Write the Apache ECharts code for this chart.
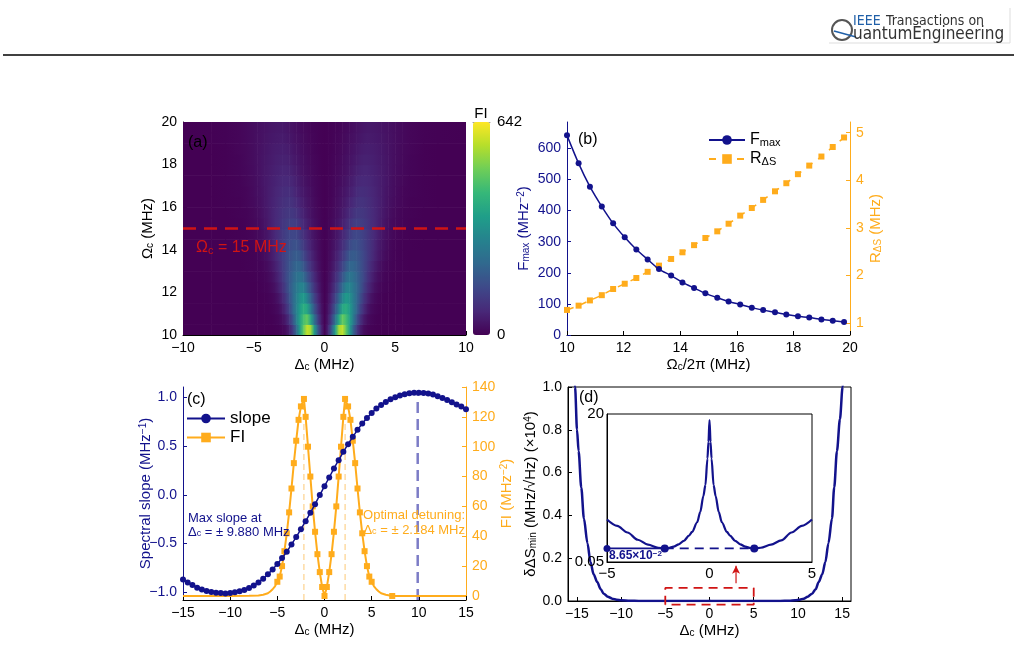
<!DOCTYPE html>
<html>
<head>
<meta charset="utf-8">
<script src="https://cdn.jsdelivr.net/npm/echarts@6/dist/echarts.min.js"></script>
<style>
html, body { margin: 0; padding: 0; background: #fff; }
#chart { width: 1019px; height: 655px; }
</style>
</head>
<body>
<div id="chart"></div>
<script>
const FONT = 'Liberation Sans, Arial, sans-serif';
const NAVY = '#12128c';
const ORANGE = '#ffac1c';
const RED = '#d01414';

// (a) FI map, half rows (mirrored about 0), Δc samples and Ωc row centres
const heatDelta = [0, 0.25, 0.5, 0.75, 1, 1.25, 1.5, 1.75, 2, 2.25, 2.5, 2.75, 3, 3.25, 3.5, 3.75, 4, 4.25, 4.5, 4.75, 5, 5.5, 6, 7, 8, 10];
const heatOmega = [10.25, 10.75, 11.25, 11.75, 12.25, 12.75, 13.25, 13.75, 14.25, 14.75, 15.25, 15.75, 16.25, 16.75, 17.25, 17.75, 18.25, 18.75, 19.25, 19.75];
const heatRows = [
  [0, 72, 192, 360, 552, 585, 483, 354, 216, 117, 55, 22, 9, 4, 1, 0, 0, 0, 0, 0, 0, 0, 0, 0, 0, 0],
  [0, 49, 132, 244, 381, 488, 449, 366, 273, 171, 98, 49, 23, 11, 5, 2, 1, 0, 0, 0, 0, 0, 0, 0, 0, 0],
  [0, 37, 98, 176, 278, 380, 403, 352, 282, 211, 135, 82, 43, 21, 11, 5, 2, 1, 0, 0, 0, 0, 0, 0, 0, 0],
  [0, 28, 74, 131, 208, 294, 346, 324, 275, 218, 159, 104, 66, 36, 19, 10, 5, 2, 1, 0, 0, 0, 0, 0, 0, 0],
  [0, 21, 56, 100, 156, 220, 282, 290, 259, 219, 176, 126, 85, 56, 32, 18, 9, 5, 3, 1, 0, 0, 0, 0, 0, 0],
  [0, 17, 44, 78, 120, 171, 223, 250, 236, 208, 173, 138, 100, 68, 44, 26, 16, 8, 5, 3, 1, 0, 0, 0, 0, 0],
  [0, 13, 34, 60, 92, 132, 175, 209, 210, 192, 166, 136, 107, 77, 55, 36, 22, 13, 7, 5, 3, 1, 0, 0, 0, 0],
  [0, 11, 28, 49, 73, 105, 138, 174, 186, 178, 159, 137, 113, 88, 65, 46, 31, 20, 12, 7, 4, 1, 0, 0, 0, 0],
  [0, 9, 23, 39, 59, 84, 111, 140, 160, 158, 145, 128, 109, 90, 69, 50, 36, 25, 16, 10, 6, 2, 1, 0, 0, 0],
  [0, 7, 18, 31, 48, 67, 89, 112, 134, 139, 133, 120, 105, 88, 74, 56, 41, 29, 21, 14, 9, 4, 1, 0, 0, 0],
  [0, 6, 15, 26, 39, 54, 72, 92, 112, 122, 119, 111, 99, 85, 73, 59, 45, 33, 24, 17, 12, 5, 2, 0, 0, 0],
  [0, 5, 12, 21, 32, 44, 59, 75, 92, 104, 106, 101, 92, 82, 71, 60, 47, 37, 28, 20, 14, 6, 3, 0, 0, 0],
  [0, 4, 10, 18, 27, 36, 49, 63, 76, 89, 95, 92, 86, 77, 68, 59, 49, 39, 30, 23, 17, 9, 4, 1, 0, 0],
  [0, 3, 8, 15, 23, 31, 41, 52, 63, 76, 84, 83, 79, 72, 65, 56, 49, 39, 31, 25, 19, 10, 5, 1, 0, 0],
  [0, 3, 7, 13, 19, 26, 34, 44, 53, 65, 72, 74, 72, 68, 61, 55, 47, 41, 33, 26, 20, 12, 6, 1, 0, 0],
  [0, 2, 6, 11, 16, 22, 28, 36, 45, 54, 62, 66, 65, 61, 57, 51, 45, 40, 33, 27, 21, 13, 7, 2, 0, 0],
  [0, 2, 5, 9, 14, 19, 25, 31, 39, 46, 54, 58, 58, 56, 53, 48, 43, 38, 33, 27, 22, 14, 8, 2, 0, 0],
  [0, 2, 4, 8, 12, 16, 21, 27, 33, 39, 47, 51, 53, 52, 49, 45, 41, 36, 32, 27, 22, 14, 9, 2, 0, 0],
  [0, 2, 4, 7, 10, 14, 18, 23, 28, 33, 39, 44, 47, 46, 44, 41, 38, 34, 30, 27, 22, 15, 9, 3, 1, 0],
  [0, 1, 3, 6, 8, 12, 15, 19, 24, 29, 34, 39, 42, 42, 40, 38, 35, 32, 29, 25, 22, 15, 10, 3, 1, 0]
];
const heatMax = 642;
const viridis = ['#440154', '#482878', '#3e4989', '#31688e', '#26828e', '#1f9e89', '#35b779', '#6ece58', '#b5de2b', '#fde725'];
const omegaLine = 15;

// (b) Fmax and R_ΔS against Ωc/2π
const bOmega = [10.00, 10.41, 10.81, 11.23, 11.63, 12.04, 12.45, 12.85, 13.25, 13.68, 14.08, 14.49, 14.89, 15.31, 15.71, 16.12, 16.53, 16.93, 17.35, 17.75, 18.16, 18.56, 18.99, 19.39, 19.79];
const bFmax = [642, 552, 477, 413, 359, 314, 275, 243, 212, 191, 169, 151, 134, 120, 108, 98, 88, 80, 73, 66, 60, 56, 50, 46, 42];
const bRds = [1.28, 1.37, 1.48, 1.59, 1.72, 1.83, 1.95, 2.08, 2.21, 2.35, 2.49, 2.64, 2.79, 2.93, 3.09, 3.26, 3.42, 3.59, 3.77, 3.94, 4.13, 4.31, 4.50, 4.70, 4.90];
const bLeftTicks = [0, 100, 200, 300, 400, 500, 600];
const bRightTicks = [1, 2, 3, 4, 5];

// (c) spectral slope and FI at Ωc = 15 MHz
const cDelta = [-15, -14.5, -14, -13.5, -13, -12.5, -12, -11.5, -11, -10.5, -10, -9.5, -9, -8.5, -8, -7.5, -7, -6.5, -6, -5.5, -5, -4.5, -4, -3.5, -3, -2.5, -2, -1.5, -1, -0.5, 0, 0.5, 1, 1.5, 2, 2.5, 3, 3.5, 4, 4.5, 5, 5.5, 6, 6.5, 7, 7.5, 8, 8.5, 9, 9.5, 10, 10.5, 11, 11.5, 12, 12.5, 13, 13.5, 14, 14.5, 15];
const cSlope = [-0.870, -0.901, -0.928, -0.955, -0.973, -0.990, -1.000, -1.007, -1.010, -1.014, -1.010, -1.003, -0.993, -0.979, -0.959, -0.932, -0.901, -0.863, -0.818, -0.767, -0.712, -0.651, -0.586, -0.510, -0.435, -0.353, -0.271, -0.185, -0.096, -0.003, 0.089, 0.178, 0.271, 0.356, 0.442, 0.521, 0.596, 0.668, 0.733, 0.791, 0.842, 0.887, 0.925, 0.955, 0.983, 1.003, 1.021, 1.034, 1.045, 1.051, 1.051, 1.048, 1.041, 1.031, 1.014, 0.997, 0.976, 0.952, 0.928, 0.908, 0.880];
const fiDelta = [-15, -10, -8, -7, -6.5, -6, -5.75, -5.5, -5.25, -5, -4.75, -4.5, -4.25, -4, -3.75, -3.5, -3.25, -3, -2.75, -2.5, -2.18, -2, -1.75, -1.5, -1.25, -1, -0.75, -0.5, -0.25, 0, 0.25, 0.5, 0.75, 1, 1.25, 1.5, 1.75, 2, 2.18, 2.5, 2.75, 3, 3.25, 3.5, 3.75, 4, 4.25, 4.5, 4.75, 5, 5.25, 5.5, 5.75, 6, 6.5, 7.18, 8, 10, 15];
const fiVal = [0, 0, 0.1, 0.3, 0.8, 1.8, 3, 4.5, 6.5, 9.5, 13, 20, 30, 42, 56, 72, 89, 104, 118, 127, 132, 120, 100, 80, 60, 43, 28, 16, 6, 0, 6, 16, 28, 43, 60, 80, 100, 120, 132, 127, 118, 104, 89, 72, 56, 42, 30, 20, 13, 9.5, 6.5, 4.5, 3, 1.8, 0.8, 0, 0, 0, 0];
const cLeftTicks = [-1, -0.5, 0, 0.5, 1];
const cRightTicks = [0, 20, 40, 60, 80, 100, 120, 140];
const optDetuning = 2.184;
const fiPeak = 132;
const maxSlopeAt = 9.880;
const maxSlope = 1.05;

// (d) δΔS_min (×10^4), outer wings and inset (MHz/√Hz, log axis)
const dLeftDelta = [-16, -15.5, -15.2, -14.98, -14.8, -14.5, -14.2, -13.8, -13.46, -13.1, -12.7, -12.3, -11.96, -11.5, -11, -10.5, -10, -9, -8, -7, -6];
const dLeftVal = [1.6, 1.28, 1.0, 0.8, 0.7, 0.53, 0.385, 0.27, 0.182, 0.125, 0.089, 0.055, 0.034, 0.02, 0.011, 0.006, 0.003, 0.001, 0.0004, 0.0001, 0.00005];
const dRightDelta = [6, 7, 8, 9, 9.7, 10.2, 10.65, 11.1, 11.6, 12, 12.35, 12.75, 13.1, 13.45, 13.85, 14.1, 14.41, 14.75, 15.05, 15.4, 16];
const dRightVal = [0.00005, 0.0001, 0.0004, 0.001, 0.003, 0.006, 0.011, 0.02, 0.034, 0.055, 0.089, 0.125, 0.182, 0.27, 0.385, 0.53, 0.7, 0.85, 1.0, 1.28, 1.6];
const insetDelta = [-5, -4.5, -4, -3.5, -3, -2.5, -2.18, -2, -1.75, -1.5, -1.25, -1, -0.85, -0.6, -0.45, -0.3, -0.2, -0.1, -0.05, 0, 0.05, 0.1, 0.2, 0.3, 0.45, 0.6, 0.85, 1, 1.25, 1.5, 1.75, 2, 2.18, 2.5, 3, 3.5, 4, 4.5, 5];
const insetVal = [0.279, 0.215, 0.165, 0.123, 0.101, 0.089, 0.0865, 0.088, 0.093, 0.102, 0.118, 0.145, 0.169, 0.25, 0.38, 0.72, 1.12, 3.3, 6.5, 15.7, 6.5, 3.3, 1.12, 0.72, 0.38, 0.25, 0.169, 0.145, 0.118, 0.102, 0.093, 0.088, 0.0865, 0.089, 0.101, 0.12, 0.165, 0.215, 0.279];
const insetMin = 0.0865;
const dXTicks = [-15, -10, -5, 0, 5, 10, 15];
const zoomBox = { x: [-5, 5], y: [-0.017, 0.061] };
const arrowAt = { x: 3.0, y: [0.083, 0.165] };

// ---- helpers
const vir = viridis.map(h => [1, 3, 5].map(i => parseInt(h.slice(i, i + 2), 16)));
function cmap(v) {
  const t = Math.max(0, Math.min(1, v / heatMax)) * (vir.length - 1);
  const k = Math.min(Math.floor(t), vir.length - 2), f = t - k;
  return 'rgb(' + vir[k].map((a, n) => Math.round(a + (vir[k + 1][n] - a) * f)).join(',') + ')';
}
const minus = d => v => (v < 0 ? '\u2212' : '') + Math.abs(v).toFixed(d);

// rich styles for component texts (color) and for graphic texts (fill)
function rich(color, size) {
  const small = Math.round(size * 0.68);
  return {
    n: { fontSize: size, color: color, fontFamily: FONT },
    s: { fontSize: small, color: color, fontFamily: FONT, verticalAlign: 'bottom' },
    p: { fontSize: small, color: color, fontFamily: FONT, verticalAlign: 'top' }
  };
}
function richG(color, size) {
  const small = Math.round(size * 0.68);
  return {
    n: { font: size + 'px ' + FONT, fill: color },
    s: { font: small + 'px ' + FONT, fill: color, verticalAlign: 'bottom' },
    p: { font: small + 'px ' + FONT, fill: color, verticalAlign: 'top' }
  };
}

function valAxis(grid, color, o) {
  const a = {
    type: o.type || 'value', gridIndex: grid, min: o.min, max: o.max,
    axisLine: { show: o.line !== false, onZero: false, lineStyle: { color: o.lineColor || color, width: 1 } },
    axisTick: { show: o.tick !== false, inside: true, length: 4, lineStyle: { color: color } },
    axisLabel: { show: o.label !== false, color: color, fontSize: o.size || 14, fontFamily: FONT, margin: o.margin || 6 },
    splitLine: { show: false },
    name: o.name || '', nameLocation: 'middle', nameGap: o.gap, nameMoveOverlap: false,
    nameTextStyle: { rich: rich(color, 15) }
  };
  if (o.position) a.position = o.position;
  if (o.rotate !== undefined) a.nameRotate = o.rotate;
  if (o.fmt) a.axisLabel.formatter = o.fmt;
  if (o.interval) a.interval = o.interval;
  if (o.ticks) { a.axisLabel.customValues = o.ticks; a.axisTick.customValues = o.ticks; }
  return a;
}

// ---- table for the map: cells between neighbouring Δc samples
const heatX = heatDelta.slice(1).map(d => -d).reverse().concat(heatDelta);
const heatCells = [];
heatRows.forEach((row, j) => {
  const full = row.slice(1).reverse().concat(row);
  for (let i = 0; i < heatX.length - 1; i++) {
    heatCells.push([heatX[i], heatOmega[j], full[i], heatX[i + 1], full[i + 1]]);
  }
});
const halfRow = (heatOmega[1] - heatOmega[0]) / 2;

function renderHeat(params, api) {
  const a = api.coord([api.value(0), api.value(1) + halfRow]);
  const b = api.coord([api.value(3), api.value(1) - halfRow]);
  return {
    type: 'rect',
    shape: { x: a[0], y: a[1], width: b[0] - a[0] + 0.6, height: b[1] - a[1] + 0.6 },
    style: {
      fill: new echarts.graphic.LinearGradient(0, 0, 1, 0, [
        { offset: 0, color: cmap(api.value(2)) },
        { offset: 1, color: cmap(api.value(4)) }
      ])
    }
  };
}

const zip = (xs, ys) => xs.map((x, i) => [x, ys[i]]);
const dMain = zip(dLeftDelta, dLeftVal)
  .concat(zip(insetDelta, insetVal.map(v => v / 1e4)))
  .concat(zip(dRightDelta, dRightVal));
const fiData = fiDelta.map((x, i) => ({
  value: [x, fiVal[i]],
  symbol: (Math.abs(x) <= 5 || x === 7.18) ? 'rect' : 'none'
}));

const text = (x, y, str, color, size, align, font) => ({
  type: 'text', x: x, y: y, z: 50,
  style: { text: str, fill: color, font: size + 'px ' + (font || FONT), textAlign: align || 'left', textVerticalAlign: 'middle' }
});
const richText = (x, y, str, color, size, align) => ({
  type: 'text', x: x, y: y, z: 50,
  style: { text: str, rich: richG(color, size), textAlign: align || 'left', textVerticalAlign: 'middle' }
});

const chart = echarts.init(document.getElementById('chart'), null, { renderer: 'canvas' });

chart.setOption({
  animation: false,
  backgroundColor: '#fff',
  grid: [
    { left: 183, top: 122, width: 283, height: 213, outerBoundsMode: 'none' },
    { left: 473, top: 122, width: 17, height: 213, outerBoundsMode: 'none' },
    { left: 567, top: 122, width: 283, height: 213, outerBoundsMode: 'none' },
    { left: 183, top: 387, width: 283, height: 213, outerBoundsMode: 'none' },
    { left: 568, top: 387, width: 283, height: 214, outerBoundsMode: 'none', show: true, borderColor: '#000', borderWidth: 1 },
    { left: 607, top: 414, width: 205, height: 148, outerBoundsMode: 'none', show: true, borderColor: '#000', borderWidth: 1, backgroundColor: '#fff', z: 5 }
  ],
  xAxis: [
    valAxis(0, '#000', { min: -10, max: 10, interval: 5, fmt: minus(0), name: '{n|\u0394}{s|c}{n| (MHz)}', gap: 22 }),
    valAxis(1, '#999', { min: 0, max: 1, position: 'top', tick: false, label: false }),
    valAxis(2, '#000', { min: 10, max: 20, interval: 2, name: '{n|\u03a9}{s|c}{n|/2\u03c0 (MHz)}', gap: 22 }),
    valAxis(3, '#000', { min: -15, max: 15, interval: 5, fmt: minus(0), name: '{n|\u0394}{s|c}{n| (MHz)}', gap: 22 }),
    valAxis(4, '#000', { min: -16, max: 16, ticks: dXTicks, fmt: minus(0), name: '{n|\u0394}{s|c}{n| (MHz)}', gap: 22 }),
    Object.assign(valAxis(5, '#000', { min: -5, max: 5, ticks: [-5, 0, 5], fmt: minus(0), tick: false, size: 15, margin: 4 }), { z: 6 })
  ],
  yAxis: [
    valAxis(0, '#000', { min: 10, max: 20, interval: 2, name: '{n|\u03a9}{s|c}{n| (MHz)}', gap: 28 }),
    valAxis(1, '#000', { min: 0, max: heatMax, position: 'right', line: false, tick: false, ticks: [0, heatMax], size: 15, margin: 7 }),
    valAxis(2, NAVY, { min: 0, max: 685, ticks: bLeftTicks, name: '{n|F}{s|max}{n| (MHz}{p|\u22122}{n|)}', gap: 36 }),
    valAxis(2, ORANGE, { min: 0.754, max: 5.225, position: 'right', ticks: bRightTicks, name: '{n|R}{s|\u0394S}{n| (MHz)}', gap: 18, rotate: 90 }),
    valAxis(3, NAVY, { min: -1.082, max: 1.109, ticks: cLeftTicks, fmt: minus(1), name: '{n|Spectral slope (MHz}{p|\u22121}{n|)}', gap: 30 }),
    valAxis(3, ORANGE, { min: -2.7, max: 140, position: 'right', ticks: cRightTicks, name: '{n|FI (MHz}{p|\u22122}{n|)}', gap: 33, rotate: 90 }),
    valAxis(4, '#000', { min: 0, max: 1, interval: 0.2, fmt: minus(1), name: '{n|\u03b4\u0394S}{s|min}{n| (MHz/\u221aHz) (\u00d710}{p|4}{n|)}', gap: 30 }),
    Object.assign(valAxis(5, '#000', {
      type: 'log', min: 0.05, max: 20, tick: false, size: 15, margin: 3,
      fmt: v => Math.abs(v - 0.05) < 1e-6 ? '0.05' : (Math.abs(v - 20) < 1e-6 ? '20' : '')
    }), { logBase: 10, z: 6 })
  ],
  visualMap: {
    type: 'continuous', min: 0, max: heatMax, seriesIndex: 0, dimension: 2,
    calculable: false, orient: 'vertical', left: 473, top: 122, padding: 0,
    itemWidth: 17, itemHeight: 213, inRange: { color: viridis }
  },
  legend: [
    {
      data: ['Fmax', 'Rds'], orient: 'vertical', left: 708, top: 132, padding: 0,
      itemWidth: 36, itemHeight: 12, itemGap: 3,
      formatter: n => n === 'Fmax' ? '{n|F}{s|max}' : '{n|R}{s|\u0394S}',
      textStyle: { rich: rich('#000', 16) }
    },
    {
      data: ['slope', 'FI'], orient: 'vertical', left: 186, top: 410, padding: 0,
      itemWidth: 38, itemHeight: 12, itemGap: 2,
      textStyle: { fontSize: 17, fontFamily: FONT, color: '#000' }
    }
  ],
  series: [
    { type: 'custom', xAxisIndex: 0, yAxisIndex: 0, renderItem: renderHeat, data: heatCells, encode: { x: [0, 3], y: 1 }, clip: true, z: 1 },
    { type: 'line', xAxisIndex: 0, yAxisIndex: 0, data: [[-10, omegaLine], [10, omegaLine]], symbol: 'none',
      lineStyle: { color: RED, width: 2.5, type: [13, 8] }, z: 5 },

    { name: 'Fmax', type: 'line', xAxisIndex: 2, yAxisIndex: 2, data: zip(bOmega, bFmax), smooth: 0.3,
      symbol: 'circle', symbolSize: 6, showAllSymbol: true, itemStyle: { color: NAVY },
      lineStyle: { color: NAVY, width: 1.5 }, z: 4 },
    { name: 'Rds', type: 'line', xAxisIndex: 2, yAxisIndex: 3, data: zip(bOmega, bRds),
      symbol: 'rect', symbolSize: 6, showAllSymbol: true, itemStyle: { color: ORANGE },
      lineStyle: { color: ORANGE, width: 1.5, type: [7, 7] }, z: 3 },

    { type: 'line', xAxisIndex: 3, yAxisIndex: 5, data: [[-optDetuning, -2.7], [-optDetuning, fiPeak]], symbol: 'none',
      lineStyle: { color: '#fdd595', width: 1.3, type: [6, 4] }, z: 1 },
    { type: 'line', xAxisIndex: 3, yAxisIndex: 5, data: [[optDetuning, -2.7], [optDetuning, fiPeak]], symbol: 'none',
      lineStyle: { color: '#fdd595', width: 1.3, type: [6, 4] }, z: 1 },
    { type: 'line', xAxisIndex: 3, yAxisIndex: 4, data: [[maxSlopeAt, -1.082], [maxSlopeAt, maxSlope]], symbol: 'none',
      lineStyle: { color: '#7c7cc6', width: 2.5, type: [11, 6] }, z: 1 },
    { name: 'FI', type: 'line', xAxisIndex: 3, yAxisIndex: 5, data: fiData,
      symbol: 'rect', symbolSize: 6, showAllSymbol: true, itemStyle: { color: ORANGE },
      lineStyle: { color: ORANGE, width: 2 }, z: 3 },
    { name: 'slope', type: 'line', xAxisIndex: 3, yAxisIndex: 4, data: zip(cDelta, cSlope),
      symbol: 'circle', symbolSize: 6, showAllSymbol: true, itemStyle: { color: NAVY },
      lineStyle: { color: NAVY, width: 1.5 }, z: 4 },

    { type: 'line', xAxisIndex: 4, yAxisIndex: 6, data: dMain, symbol: 'none', smooth: 0.3, smoothMonotone: 'x',
      lineStyle: { color: NAVY, width: 2.5 }, z: 3 },
    { type: 'line', xAxisIndex: 4, yAxisIndex: 6, clip: false, symbol: 'none',
      data: [[zoomBox.x[0], zoomBox.y[0]], [zoomBox.x[0], zoomBox.y[1]], [zoomBox.x[1], zoomBox.y[1]], [zoomBox.x[1], zoomBox.y[0]], [zoomBox.x[0], zoomBox.y[0]]],
      lineStyle: { color: RED, width: 1.8, type: [9, 6] }, z: 4 },
    { type: 'line', xAxisIndex: 4, yAxisIndex: 6, clip: false,
      data: [{ value: [arrowAt.x, arrowAt.y[0]], symbol: 'none' }, { value: [arrowAt.x, arrowAt.y[1]], symbol: 'arrow', symbolSize: [6, 8] }],
      itemStyle: { color: RED }, lineStyle: { color: RED, width: 1.2 }, z: 4 },

    { type: 'line', xAxisIndex: 5, yAxisIndex: 7, data: zip(insetDelta, insetVal), symbol: 'none',
      smooth: 0.3, smoothMonotone: 'x', lineStyle: { color: NAVY, width: 2.2 }, z: 7 },
    { type: 'line', xAxisIndex: 5, yAxisIndex: 7, data: [[-5, insetMin], [-optDetuning, insetMin]],
      symbol: 'circle', symbolSize: 7, itemStyle: { color: NAVY }, lineStyle: { color: NAVY, width: 1.8 }, z: 8 },
    { type: 'line', xAxisIndex: 5, yAxisIndex: 7, data: [[-optDetuning, insetMin], [optDetuning, insetMin]],
      symbol: 'circle', symbolSize: 8, itemStyle: { color: NAVY }, lineStyle: { color: NAVY, width: 1.8, type: [9, 6] }, z: 8 }
  ],
  graphic: [
    { type: 'line', shape: { x1: 3, y1: 55, x2: 1014, y2: 55 }, style: { stroke: '#000', lineWidth: 1.5 } },
    { type: 'line', shape: { x1: 1010, y1: 8, x2: 1010, y2: 43 }, style: { stroke: '#ddd', lineWidth: 1 } },
    { type: 'line', shape: { x1: 829, y1: 43, x2: 1010, y2: 43 }, style: { stroke: '#ddd', lineWidth: 1 } },
    { type: 'circle', shape: { cx: 842, cy: 30, r: 10 }, style: { fill: 'none', stroke: '#555', lineWidth: 2 } },
    { type: 'line', shape: { x1: 834, y1: 31, x2: 856, y2: 37 }, style: { stroke: '#1f5fa8', lineWidth: 1.5 } },
    text(853, 21, 'IEEE', '#1f5fa8', 14, 'left', 'DejaVu Sans Condensed'),
    text(886, 21, 'Transactions on', '#333', 14, 'left', 'DejaVu Sans Condensed'),
    text(853, 35, 'uantumEngineering', '#333', 17, 'left', 'DejaVu Sans Condensed'),

    text(188, 143, '(a)', '#000', 16),
    text(578, 140, '(b)', '#000', 16),
    text(187, 400, '(c)', '#000', 16),
    text(579, 398, '(d)', '#000', 16),
    text(481, 114, 'FI', '#000', 15, 'center'),
    richText(196, 248, '{n|\u03a9}{s|c}{n| = 15 MHz}', RED, 16),
    text(188, 518, 'Max slope at', NAVY, 13),
    richText(188, 532, '{n|\u0394}{s|c}{n| = \u00b1 9.880 MHz}', NAVY, 13),
    text(465, 515, 'Optimal detuning:', ORANGE, 13, 'right'),
    richText(465, 530, '{n|\u0394}{s|c}{n| = \u00b1 2.184 MHz}', ORANGE, 13, 'right'),
    { type: 'text', x: 609, y: 556, z: 60, style: { text: '{a|8.65\u00d710}{b|\u22122}', textVerticalAlign: 'middle',
      rich: { a: { font: 'bold 12px ' + FONT, fill: NAVY }, b: { font: 'bold 8px ' + FONT, fill: NAVY, verticalAlign: 'top' } } } }
  ]
});
</script>
</body>
</html>
